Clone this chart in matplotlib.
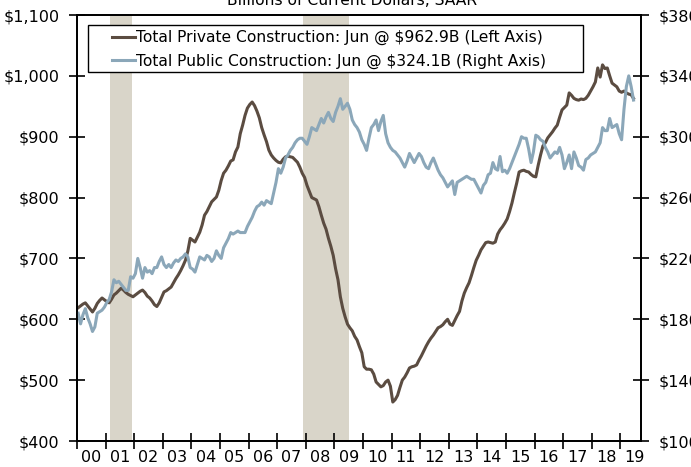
import matplotlib
import numpy as np

matplotlib.use("Agg")
import matplotlib.pyplot as plt
from matplotlib.patches import Rectangle
from matplotlib.ticker import FixedLocator, NullFormatter, FixedFormatter

# Monthly values, Jan 2000 - Jun 2019, billions of dollars SAAR
private = [
    619, 622, 625, 627, 622, 617, 612, 618, 626, 631, 635, 632,  # 2000
    629, 627, 633, 640, 643, 647, 651, 648, 644, 641, 639, 637,  # 2001
    640, 643, 646, 648, 644, 638, 635, 630, 624, 621, 627, 636,  # 2002
    645, 647, 650, 653, 660, 667, 673, 680, 688, 697, 712, 733,  # 2003
    730, 727, 735, 743, 755, 771, 777, 785, 793, 797, 801, 812,  # 2004
    828, 840, 845, 852, 860, 862, 875, 883, 905, 919, 935, 947,  # 2005
    953, 957, 951, 942, 931, 915, 903, 892, 878, 870, 865, 861,  # 2006
    858, 857, 863, 867, 868, 867, 866, 862, 858, 850, 840, 833,  # 2007
    820, 810, 800, 798, 796, 785, 771, 758, 748, 733, 720, 705,  # 2008
    683, 665, 637, 618, 604, 592, 586, 581, 572, 566, 555, 545,  # 2009
    522, 518, 518, 517, 510, 497, 493, 489, 491, 497, 500, 490,  # 2010
    464, 468, 475, 488, 500, 505, 512, 520, 522, 523, 525, 533,  # 2011
    540, 548, 556, 563, 569, 574, 580, 586, 588, 591, 596, 600,  # 2012
    592, 590, 598, 606, 613, 630, 643, 652, 660, 672, 685, 697,  # 2013
    705, 714, 720, 726, 727, 726, 725, 727, 740, 747, 752, 758,  # 2014
    765, 777, 791, 808, 824, 842, 844, 845, 843, 842, 838, 835,  # 2015
    834, 853, 870, 885, 890, 898, 903, 908, 914, 919, 932, 944,  # 2016
    948, 952, 972, 968, 963, 961, 960, 962, 961, 963, 968, 975,  # 2017
    982, 990, 1013, 998, 1018, 1012, 1013, 1000, 988, 985, 982, 975,  # 2018
    973, 975, 972, 970, 969, 962.9,  # 2019
]

public = [
    184, 177, 183, 187, 181, 177, 172, 175, 184, 185, 186, 188,  # 2000
    191, 193, 198, 206, 204, 205, 203, 201, 199, 199, 208, 207,  # 2001
    210, 220, 214, 207, 214, 211, 212, 210, 214, 214, 218, 221,  # 2002
    216, 214, 216, 214, 217, 219, 218, 220, 221, 223, 221, 214,  # 2003
    213, 211, 216, 221, 220, 219, 222, 221, 218, 220, 225, 222,  # 2004
    220, 227, 230, 233, 237, 236, 237, 238, 237, 237, 237, 241,  # 2005
    244, 247, 251, 254, 255, 257, 255, 258, 257, 256, 263, 270,  # 2006
    279, 276, 280, 286, 288, 291, 293, 296, 298, 299, 299, 297,  # 2007
    295, 300, 306, 305, 304, 308, 312, 309, 313, 316, 312, 310,  # 2008
    316, 320, 325, 318, 320, 322, 318, 311, 308, 306, 303, 298,  # 2009
    295, 291, 299, 306, 308, 311, 304, 310, 314, 302, 296, 293,  # 2010
    291, 290, 288, 286, 283, 280, 284, 289, 286, 283, 286, 289,  # 2011
    287, 283, 280, 279, 283, 286, 282, 278, 275, 273, 270, 267,  # 2012
    269, 271, 262, 270, 271, 272, 273, 274, 273, 272, 272, 269,  # 2013
    266, 263, 268, 270, 275, 276, 283, 279, 278, 287, 277, 278,  # 2014
    276, 279, 283, 287, 291, 295, 300, 299, 299, 292, 283, 290,  # 2015
    301, 300, 298, 297, 293, 290, 286, 288, 290, 289, 293, 288,  # 2016
    279, 283, 288, 279, 290, 286, 281, 280, 278, 285, 286, 288,  # 2017
    289, 290, 293, 296, 306, 304, 304, 312, 306, 307, 308, 302,  # 2018
    298, 318, 333, 340, 333, 324.1,  # 2019
]

recessions = [(2001 + 2 / 12, 2001 + 11 / 12), (2007 + 11 / 12, 2009.5)]
years = list(range(2000, 2020))
year_labels = [f"{y % 100:02d}" for y in years]

private_label = "Total Private Construction: Jun @ $962.9B (Left Axis)"
public_label = "Total Public Construction: Jun @ $324.1B (Right Axis)"

PRIVATE_COLOR = "#5b4c41"
PUBLIC_COLOR = "#8ba7b9"
SHADE_COLOR = "#d9d5c9"
FS = 11.5

plt.rcParams["font.family"] = "DejaVu Sans"

t = 2000 + (np.arange(len(private)) + 0.5) / 12
t_pub = 2000 + (np.arange(len(public)) + 0.5) / 12

fig = plt.figure(figsize=(6.91, 4.67), dpi=100)
ax = fig.add_axes([77 / 691, 26 / 467, 564 / 691, 426 / 467])
ax2 = ax.twinx()

for start, end in recessions:
    ax.axvspan(start, end, color=SHADE_COLOR, lw=0, zorder=0)

line1 = ax.plot(t, private, color=PRIVATE_COLOR, lw=2.2, label=private_label)
line2 = ax2.plot(t_pub, public, color=PUBLIC_COLOR, lw=2.2, label=public_label)

ax.set_xlim(2000, 2019.72)
ax.set_ylim(400, 1100)
ax2.set_ylim(100, 380)

ax.set_yticks(range(400, 1101, 100))
ax.set_yticklabels([f"${v:,}" for v in range(400, 1101, 100)])
ax2.set_yticks(range(100, 381, 40))
ax2.set_yticklabels([f"${v}" for v in range(100, 381, 40)])

ax.xaxis.set_major_locator(FixedLocator(years))
ax.xaxis.set_major_formatter(NullFormatter())
ax.xaxis.set_minor_locator(FixedLocator([y + 0.5 for y in years]))
ax.xaxis.set_minor_formatter(FixedFormatter(year_labels))

ax.tick_params(axis="x", which="major", direction="inout", length=11, width=1.2)
ax.tick_params(axis="x", which="minor", length=0, pad=6.5, labelsize=FS)
ax.tick_params(axis="y", direction="inout", length=11, width=1.2, pad=7, labelsize=FS)
ax2.tick_params(axis="y", direction="inout", length=11, width=1.2, pad=7, labelsize=FS)

for a in (ax, ax2):
    for side in a.spines.values():
        side.set_linewidth(1.3)

# legend box drawn by hand: wider side padding than matplotlib allows
box = Rectangle(
    ((88 - 77) / 564, (441 - 72) / 426),
    (583 - 88) / 564,
    (72 - 25) / 426,
    transform=ax2.transAxes,
    facecolor="white",
    edgecolor="black",
    lw=1.0,
    zorder=5,
)
ax2.add_patch(box)
leg = ax2.legend(
    line1 + line2,
    [private_label, public_label],
    loc="upper left",
    bbox_to_anchor=((112 - 77) / 564, (441 - 30) / 426),
    frameon=False,
    borderpad=0,
    borderaxespad=0,
    handlelength=1.5,
    handletextpad=0.05,
    labelspacing=0.55,
    fontsize=11.2,
)
leg.set_zorder(6)

fig.text(0.509, 0.989, "Billions of Current Dollars, SAAR", ha="center",
         va="baseline", fontsize=11.2)

fig.savefig("out.png", dpi=100)
